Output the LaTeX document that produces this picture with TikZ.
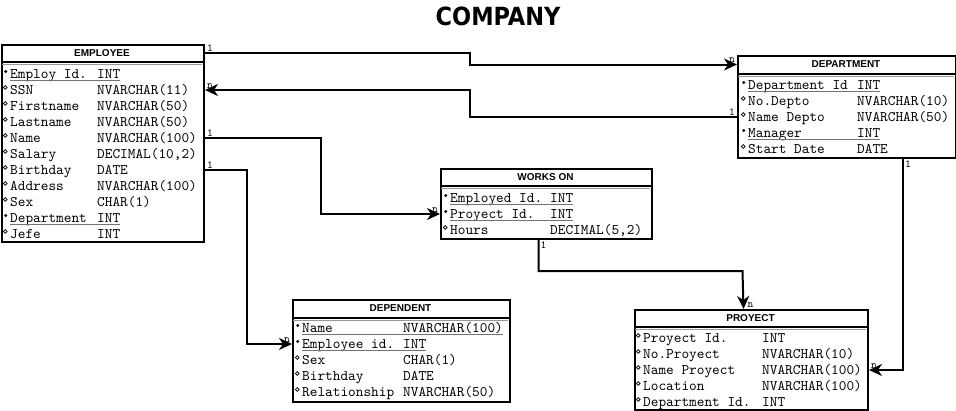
\documentclass[tikz,border=0pt]{standalone}
\usepackage{fontspec}
\setmainfont{Liberation Sans}
\newfontfamily\fieldfont{lmmono10-regular.otf}
\newfontfamily\titlefont{DejaVu Sans Condensed}
\usetikzlibrary{arrows.meta,shapes.geometric}

\begin{document}
\begin{tikzpicture}[x=1pt,y=-1pt,
        table/.style={draw, line width=2pt, inner sep=0pt, anchor=north west},
        tablename/.style={font=\bfseries\fontsize{10}{12}\selectfont, inner sep=0pt},
        headline/.style={line width=2pt},
        shade/.style={draw=black!40, line width=1pt},
        field/.style={anchor=west, inner sep=0pt, text height=10pt, text depth=2pt,
            font=\fieldfont\fontsize{14.6}{16}\selectfont},
        pk/.style={field, label={[pkmark]left:{}},
            append after command={(\tikzlastnode.south west) edge[keyline] (\tikzlastnode.south east)}},
        att/.style={field, label={[attmark]left:{}}},
        pkmark/.style={circle, fill, inner sep=0pt, minimum size=3.2pt, xshift=-2.5pt, yshift=2.5pt},
        attmark/.style={circle, draw, line width=0.7pt, inner sep=0pt, minimum size=3.8pt, xshift=-2.5pt, yshift=2.5pt},
        keyline/.style={draw=black!55, line width=1pt},
        link/.style={line width=2pt, -{Stealth[length=13pt,width=12pt,inset=4pt]}},
        card/.style={font=\fieldfont\fontsize{11}{12}\selectfont, inner sep=1pt},
    ]
        \useasboundingbox (0,0) rectangle (956,410);
        \node[font=\titlefont\bfseries\fontsize{25}{28}\selectfont] (title) at (498,16) {COMPANY};

        \node[table, minimum width=202pt, minimum height=197pt] (emp) at (1,44) {};
        \node[tablename] (emphead) at (102,53) {EMPLOYEE};
        \draw[headline] (1,62) -- (203,62);
        \draw[shade] (2,64) -- (202,64);
        \node[pk] (e1) at (10,74) {\makebox[87pt][l]{Employ Id.}INT};
        \node[att] (e2) at (10,90) {\makebox[87pt][l]{SSN}NVARCHAR(11)};
        \node[att] (e3) at (10,106) {\makebox[87pt][l]{Firstname}NVARCHAR(50)};
        \node[att] (e4) at (10,122) {\makebox[87pt][l]{Lastname}NVARCHAR(50)};
        \node[att] (e5) at (10,138) {\makebox[87pt][l]{Name}NVARCHAR(100)};
        \node[att] (e6) at (10,154) {\makebox[87pt][l]{Salary}DECIMAL(10,2)};
        \node[att] (e7) at (10,170) {\makebox[87pt][l]{Birthday}DATE};
        \node[att] (e8) at (10,186) {\makebox[87pt][l]{Address}NVARCHAR(100)};
        \node[att] (e9) at (10,202) {\makebox[87pt][l]{Sex}CHAR(1)};
        \node[pk] (e10) at (10,218) {\makebox[87pt][l]{Department}INT};
        \node[att] (e11) at (10,234) {\makebox[87pt][l]{Jefe}INT};

        \node[table, minimum width=218pt, minimum height=102pt] (dept) at (737,55) {};
        \node[tablename] (depthead) at (846,64.5) {DEPARTMENT};
        \draw[headline] (737,74) -- (955,74);
        \draw[shade] (738,76) -- (954,76);
        \node[pk] (d1) at (748,85) {\makebox[109pt][l]{Department Id}INT};
        \node[att] (d2) at (748,101) {\makebox[109pt][l]{No.Depto}NVARCHAR(10)};
        \node[att] (d3) at (748,117) {\makebox[109pt][l]{Name Depto}NVARCHAR(50)};
        \node[pk] (d4) at (748,133) {\makebox[109pt][l]{Manager}INT};
        \node[att] (d5) at (748,149) {\makebox[109pt][l]{Start Date}DATE};

        \node[table, minimum width=211pt, minimum height=70pt] (works) at (440,168) {};
        \node[tablename] (workshead) at (545.5,177) {WORKS ON};
        \draw[headline] (440,186) -- (651,186);
        \draw[shade] (441,188) -- (650,188);
        \node[pk] (w1) at (450,198) {\makebox[100pt][l]{Employed Id.}INT};
        \node[pk] (w2) at (450,214) {\makebox[100pt][l]{Proyect Id.}INT};
        \node[att] (w3) at (450,230) {\makebox[100pt][l]{Hours}DECIMAL(5,2)};

        \node[table, minimum width=217pt, minimum height=102pt] (dep) at (292,299) {};
        \node[tablename] (dephead) at (400.5,308.5) {DEPENDENT};
        \draw[headline] (292,318) -- (509,318);
        \draw[shade] (293,320) -- (508,320);
        \node[pk] (dp1) at (302,328) {\makebox[101pt][l]{Name}NVARCHAR(100)};
        \node[pk] (dp2) at (302,344) {\makebox[101pt][l]{Employee id.}INT};
        \node[att] (dp3) at (302,360) {\makebox[101pt][l]{Sex}CHAR(1)};
        \node[att] (dp4) at (302,376) {\makebox[101pt][l]{Birthday}DATE};
        \node[att] (dp5) at (302,392) {\makebox[101pt][l]{Relationship}NVARCHAR(50)};

        \node[table, minimum width=233pt, minimum height=100pt] (proyect) at (634,309) {};
        \node[tablename] (proyecthead) at (750.5,318) {PROYECT};
        \draw[headline] (634,327) -- (867,327);
        \draw[shade] (635,329) -- (866,329);
        \node[att] (pr1) at (643,338) {\makebox[119pt][l]{Proyect Id.}INT};
        \node[att] (pr2) at (643,354) {\makebox[119pt][l]{No.Proyect}NVARCHAR(10)};
        \node[att] (pr3) at (643,370) {\makebox[119pt][l]{Name Proyect}NVARCHAR(100)};
        \node[att] (pr4) at (643,386) {\makebox[119pt][l]{Location}NVARCHAR(100)};
        \node[att] (pr5) at (643,402) {\makebox[119pt][l]{Department Id.}INT};

        \coordinate (b1) at (470,0);
        \coordinate (b3) at (321,0);
        \coordinate (b4) at (247,0);
        \coordinate (b5) at (742.5,271);

        \draw[link] (emp.east |- emphead) node[card, above right]{1} -- (b1 |- emphead)
            -- (b1 |- depthead) -- (dept.west |- depthead) node[card, above left]{n};
        \draw[link] (dept.west |- d3) node[card, above left]{1} -- (b1 |- d3)
            -- (b1 |- e2) -- (emp.east |- e2) node[card, above right]{n};
        \draw[link] (emp.east |- e5) node[card, above right]{1} -- (b3 |- e5)
            -- (b3 |- w2) -- (works.west |- w2) node[card, above left]{n};
        \draw[link] (emp.east |- e7) node[card, above right]{1} -- (b4 |- e7)
            -- (b4 |- dp2) -- (dep.west |- dp2) node[card, above left]{n};
        \draw[link] ([xshift=-8pt]works.south) node[card, below right]{1} |- (b5)
            -- ([xshift=-8pt]proyect.north) node[card, above right, xshift=2pt]{n};
        \draw[link] ([xshift=56pt]dept.south) node[card, below right]{1}
            |- (proyect.east |- pr3) node[card, above right]{n};
    \end{tikzpicture}
\end{document}
